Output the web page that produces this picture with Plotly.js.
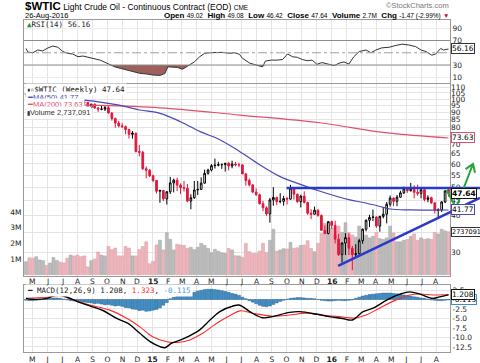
<!DOCTYPE html>
<html><head><meta charset="utf-8">
<script src="https://cdn.plot.ly/plotly-3.0.1.min.js"></script>
<style>html,body{margin:0;padding:0;background:#fff;}#chart{width:480px;height:363px;}</style>
</head><body><div id="chart"></div>
<script>
const weekDates = ['2014-04-18','2014-04-25','2014-05-02','2014-05-09','2014-05-16','2014-05-23','2014-05-30','2014-06-06','2014-06-13','2014-06-20','2014-06-27','2014-07-04','2014-07-11','2014-07-18','2014-07-25','2014-08-01','2014-08-08','2014-08-15','2014-08-22','2014-08-29','2014-09-05','2014-09-12','2014-09-19','2014-09-26','2014-10-03','2014-10-10','2014-10-17','2014-10-24','2014-10-31','2014-11-07','2014-11-14','2014-11-21','2014-11-28','2014-12-05','2014-12-12','2014-12-19','2014-12-26',
'2015-01-02','2015-01-09','2015-01-16','2015-01-23','2015-01-30','2015-02-06','2015-02-13','2015-02-20','2015-02-27','2015-03-06','2015-03-13','2015-03-20','2015-03-27','2015-04-03','2015-04-10','2015-04-17','2015-04-24','2015-05-01','2015-05-08','2015-05-15','2015-05-22','2015-05-29','2015-06-05','2015-06-12','2015-06-19','2015-06-26','2015-07-03','2015-07-10','2015-07-17','2015-07-24','2015-07-31','2015-08-07','2015-08-14','2015-08-21','2015-08-28','2015-09-04','2015-09-11','2015-09-18','2015-09-25','2015-10-02','2015-10-09','2015-10-16','2015-10-23','2015-10-30','2015-11-06','2015-11-13','2015-11-20','2015-11-27','2015-12-04','2015-12-11','2015-12-18','2015-12-25',
'2016-01-01','2016-01-08','2016-01-15','2016-01-22','2016-01-29','2016-02-05','2016-02-12','2016-02-19','2016-02-26','2016-03-04','2016-03-11','2016-03-18','2016-03-25','2016-04-01','2016-04-08','2016-04-15','2016-04-22','2016-04-29','2016-05-06','2016-05-13','2016-05-20','2016-05-27','2016-06-03','2016-06-10','2016-06-17','2016-06-24','2016-07-01','2016-07-08','2016-07-15','2016-07-22','2016-07-29','2016-08-05','2016-08-12','2016-08-19','2016-08-26'];

const openP = [103.7,104.3,100.6,99.8,100.0,102.0,104.4,102.7,102.7,106.9,107.3,105.7,104.1,100.8,103.1,102.1,97.9,97.7,97.4,93.7,96.0,93.3,92.3,92.4,93.5,89.7,85.8,82.8,81.0,80.5,78.7,75.8,76.5,66.2,65.8,57.8,57.1,
54.7,52.7,48.4,48.7,45.6,48.2,51.7,52.8,50.8,49.8,49.6,44.8,46.0,48.9,49.1,51.6,55.7,57.2,59.2,59.4,59.7,59.7,60.3,59.1,60.0,59.6,59.6,55.5,52.7,50.9,48.1,47.1,43.9,42.5,40.5,45.2,46.1,44.6,44.7,45.7,45.5,49.6,47.3,44.6,46.6,44.3,40.7,40.4,41.7,40.0,35.6,34.7,
38.1,37.0,33.2,29.4,32.2,33.6,30.9,29.4,29.6,32.8,35.9,38.5,39.4,39.5,36.8,39.7,40.4,43.7,45.9,44.7,46.2,47.8,49.3,48.6,49.1,48.0,47.6,49.0,45.4,46.0,44.2,41.6,41.8,44.5,49.02];
const highP = [104.5,104.6,101.5,101.1,102.4,104.6,104.6,103.6,107.7,107.7,107.5,106.4,104.4,104.0,105.0,102.6,98.7,98.4,97.6,96.5,96.8,93.9,95.1,94.9,95.2,90.0,86.4,84.3,82.9,81.2,79.1,77.8,76.7,69.7,66.6,58.9,57.7,
55.1,52.9,49.0,48.9,48.5,54.2,53.5,53.9,51.5,52.5,51.2,47.3,52.5,52.5,54.0,57.4,57.8,59.9,62.6,61.0,60.2,60.6,61.0,61.6,61.0,60.6,59.7,55.8,53.5,51.1,49.5,47.5,44.9,43.0,45.9,50.0,46.4,47.7,46.7,46.3,50.9,49.9,47.5,47.1,48.4,44.6,42.0,42.9,42.0,40.3,37.0,38.3,
38.4,38.4,34.6,32.4,34.8,34.7,31.5,31.9,33.3,36.1,38.8,40.2,41.9,39.8,39.9,42.4,44.5,46.8,46.0,47.0,48.6,50.2,49.8,51.7,50.7,51.0,49.7,49.1,46.9,46.4,44.3,42.3,44.8,48.8,49.08];
const lowP = [101.9,99.9,98.9,98.8,99.2,101.5,102.2,101.3,102.3,105.6,105.2,103.9,100.5,99.6,101.7,97.2,96.7,95.1,92.5,92.9,92.6,90.4,91.6,91.1,89.2,84.4,79.8,80.0,79.6,75.8,73.3,73.3,65.7,63.7,57.3,53.6,54.1,
52.0,47.6,44.2,44.8,43.6,47.4,48.0,48.5,47.3,48.3,44.4,42.0,45.6,47.0,49.0,51.4,55.2,56.6,57.9,58.9,57.7,56.5,57.0,58.0,58.9,58.5,55.4,50.6,50.3,47.7,46.7,43.6,41.4,39.9,37.8,43.2,43.4,44.0,43.2,43.6,45.3,45.3,44.2,42.6,44.0,40.2,38.9,40.3,39.6,35.4,34.5,34.5,
36.0,32.1,29.1,27.6,29.3,29.3,26.0,28.7,29.4,32.0,35.3,36.5,38.3,36.3,35.2,39.1,37.6,42.9,43.0,43.0,46.0,47.4,47.8,48.3,45.8,46.7,45.8,44.7,44.4,43.8,40.6,39.2,41.1,44.1,46.42];
const closeP = [104.3,100.6,99.8,100.0,102.0,104.4,102.7,102.7,106.9,107.3,105.7,104.1,100.8,103.1,102.1,97.9,97.7,97.4,93.7,96.0,93.3,92.3,92.4,93.5,89.7,85.8,82.8,81.0,80.5,78.7,75.8,76.5,66.2,65.8,57.8,57.1,54.7,
52.7,48.4,48.7,45.6,48.2,51.7,52.8,50.8,49.8,49.6,44.8,46.0,48.9,49.1,51.6,55.7,57.2,59.2,59.4,59.7,59.7,60.3,59.1,60.0,59.6,59.6,55.5,52.7,50.9,48.1,47.1,43.9,42.5,40.5,45.2,46.1,44.6,44.7,45.7,45.5,49.6,47.3,44.6,46.6,44.3,40.7,40.4,41.7,40.0,35.6,34.7,38.1,
37.0,33.2,29.4,32.2,33.6,30.9,29.4,29.6,32.8,35.9,38.5,39.4,39.5,36.8,39.7,40.4,43.7,45.9,44.7,46.2,47.8,49.3,48.6,49.1,48.0,47.6,49.0,45.4,46.0,44.2,41.6,41.8,44.5,48.5,47.64];

// weekly volume, millions
const volumeM = [0.83,1.08,1.05,1.15,0.94,0.9,0.6,0.75,1.1,0.9,0.8,0.75,1.05,1.25,1.2,1.25,1.15,1.2,0.5,0.9,1.0,1.45,1.25,1.2,1.8,1.6,1.7,1.2,1.2,1.8,1.7,1.2,1.2,1.6,1.8,2.1,0.7,0.85,1.9,2.2,
1.58,2.68,2.26,1.58,1.94,1.9,1.87,1.68,1.75,1.6,1.75,2.0,1.87,1.68,1.4,1.62,1.5,1.4,1.36,1.68,1.58,1.21,1.2,1.11,2.0,1.47,1.36,1.36,1.51,2.0,1.4,2.2,2.9,1.5,1.58,1.66,1.64,2.06,1.68,1.72,1.87,1.9,2.17,1.68,1.47,2.0,2.64,
3.28,3.2,2.96,2.53,3.1,2.7,3.32,2.7,2.53,2.4,3.1,2.35,2.53,2.35,2.45,2.7,2.3,2.25,2.35,3.1,2.66,2.1,2.1,2.2,2.25,2.45,2.6,2.2,2.35,2.25,2.3,2.25,2.7,2.6,2.9,2.8,2.737];

const ma50Dates = ['2014-04-18','2014-07-25','2014-10-22','2014-12-06','2015-01-16','2015-02-27','2015-04-08','2015-05-19','2015-06-28','2015-08-08','2015-09-18','2015-10-28','2015-12-05','2016-02-07','2016-03-05','2016-04-07','2016-04-29','2016-06-08','2016-08-26'];
const ma50Vals = [99.0,99.8,95.5,91.8,89.4,83.7,77.4,72.5,66.1,59.5,54.3,51.2,48.6,45.2,44.3,43.0,42.1,41.8,41.77];
const ma200Dates = ['2014-04-18','2014-08-07','2015-01-16','2015-06-28','2015-12-07','2016-04-23','2016-08-26'];
const ma200Vals = [96.5,95.5,93.4,88.2,83.0,76.6,73.63];

const rsiDates = ['2014-04-18','2014-04-22','2014-05-02','2014-05-12','2014-05-22','2014-06-02','2014-06-12','2014-06-22','2014-07-02','2014-07-12','2014-07-22','2014-08-02','2014-08-12','2014-08-22','2014-09-01','2014-09-16','2014-09-26','2014-10-06','2014-10-16','2014-10-27','2014-11-10','2014-11-22','2014-12-06','2014-12-20',
'2015-01-01','2015-01-16','2015-01-26','2015-02-01','2015-02-11','2015-02-21','2015-03-03','2015-03-11','2015-03-17','2015-03-27','2015-04-07','2015-04-17','2015-04-27','2015-05-11','2015-05-24','2015-06-07','2015-06-17','2015-06-27','2015-07-03','2015-07-18','2015-08-01','2015-08-13','2015-08-19','2015-08-31','2015-09-13','2015-09-23','2015-10-03','2015-10-13','2015-10-23','2015-11-02','2015-11-12','2015-11-22','2015-12-02','2015-12-12','2015-12-27',
'2016-01-06','2016-01-16','2016-01-26','2016-02-05','2016-02-15','2016-02-26','2016-03-11','2016-03-21','2016-03-31','2016-04-12','2016-04-27','2016-05-11','2016-05-23','2016-06-06','2016-06-20','2016-07-01','2016-07-11','2016-07-23','2016-07-31','2016-08-10','2016-08-16','2016-08-26'];
const rsiVals = [57,51,50,54.5,53,58,61,59,52,49,48,43.5,44.7,42.5,41,38,34.4,31,27,24.6,22,19,16.4,15.3,
13.7,13,16,27,27,26,23,27,30,35,43.5,49,50,50.7,50.7,49,50,47.5,41,33,30,27,36.5,38,38,39,48,43.5,42.5,39,37,38,31,34,31,
29,33,35,31.6,43.5,52,54.5,50,54.5,58,59,62,64,62.7,60,54.5,52,46,48,57,54.5,56.16];

const macdDates = ['2014-04-18','2014-05-02','2014-05-31','2014-06-22','2014-07-11','2014-08-02','2014-08-26','2014-09-22','2014-10-20','2014-11-12','2014-12-06','2014-12-27','2015-01-16','2015-01-26','2015-02-09','2015-02-26','2015-03-14','2015-04-07','2015-04-28','2015-05-18','2015-06-14','2015-06-28','2015-07-18','2015-08-13','2015-09-02','2015-10-07','2015-10-27','2015-12-03','2015-12-27','2016-01-23','2016-02-12','2016-03-05','2016-03-25','2016-04-23','2016-05-19','2016-06-08','2016-06-29','2016-07-25','2016-08-08','2016-08-26'];
const macdVals = [0.3,0.05,0.3,1.3,0.6,-0.6,-1.7,-2.9,-5.0,-6.3,-8.9,-11.1,-12.4,-12.7,-11.5,-10.7,-9.8,-8.0,-5.4,-3.2,-1.7,-1.5,-3.2,-4.8,-4.5,-3.4,-3.2,-3.9,-4.5,-5.0,-5.4,-3.2,-2.3,-0.1,1.4,2.0,1.4,0.3,0.7,1.208];
const signalDates = ['2014-04-18','2014-05-31','2014-06-26','2014-07-22','2014-08-26','2014-10-06','2014-11-10','2014-12-06','2015-01-01','2015-01-30','2015-02-20','2015-03-17','2015-04-13','2015-05-11','2015-06-07','2015-06-28','2015-07-24','2015-09-02','2015-10-07','2015-11-10','2015-12-12','2016-01-16','2016-02-15','2016-03-11','2016-04-07','2016-05-11','2016-06-08','2016-06-29','2016-07-25','2016-08-26'];
const signalVals = [0.3,0.6,1.0,0.0,-1.45,-2.8,-5.0,-7.2,-9.8,-11.1,-11.3,-10.7,-8.9,-6.3,-4.3,-3.0,-3.6,-4.4,-4.1,-3.6,-4.1,-4.5,-4.9,-4.1,-2.3,-0.1,1.2,1.45,1.2,1.323];
const histVals = [-0.2,-0.3,-0.3,-0.2,-0.1,0.0,0.2,0.3,0.4,0.4,0.3,0.1,-0.1,-0.3,-0.4,-0.5,-0.6,-0.7,-0.8,
-0.9,-1.1,-1.0,-1.2,-1.4,-1.3,-1.5,-1.7,-1.6,-1.8,-2.1,-2.2,-2.5,-2.6,-2.9,-2.8,-3.1,-3.0,-2.8,-2.6,-2.2,-1.5,-0.8,
0.2,0.6,0.9,1.1,1.3,1.5,1.7,1.9,2.2,2.4,2.6,2.7,2.7,2.6,2.5,2.3,2.1,1.9,1.6,1.4,1.1,
0.6,0.2,-0.3,-0.7,-1.1,-1.5,-1.8,-1.9,-1.7,-1.3,-0.9,-0.5,-0.2,0.1,0.3,0.4,0.5,0.5,0.4,0.3,0.3,0.2,0.0,-0.2,-0.3,-0.4,-0.4,-0.3,-0.2,-0.3,-0.3,-0.2,-0.1,
0.3,0.6,0.9,1.1,1.3,1.4,1.5,1.6,1.7,1.7,1.7,1.6,1.5,1.3,1.2,1.0,0.9,0.7,0.6,0.4,0.3,0.1,-0.1,-0.2,-0.3,-0.3,-0.2,-0.115];

const monthTicks = ['2014-05-01','2014-06-01','2014-07-01','2014-08-01','2014-09-01','2014-10-01','2014-11-01','2014-12-01','2015-01-01','2015-02-01','2015-03-01','2015-04-01','2015-05-01','2015-06-01','2015-07-01','2015-08-01','2015-09-01','2015-10-01','2015-11-01','2015-12-01','2016-01-01','2016-02-01','2016-03-01','2016-04-01','2016-05-01','2016-06-01','2016-07-01','2016-08-01'];
const monthLabels = ['M','J','J','A','S','O','N','D','<b>15</b>','F','M','A','M','J','J','A','S','O','N','D','<b>16</b>','F','M','A','M','J','J','A'];
const priceTicks = [30,35,40,45,50,55,60,65,70,75,80,85,90,95,100,105,110];
const volTicks = [1e6,2e6,3e6,4e6];
const volLabels = ['1M','2M','3M','4M'];
const rsiTicks = [10,30,70,90];
const macdTicks = [2.5,-2.5,-5,-7.5,-10,-12.5];
const macdLabels = ['2.5','-2.5','-5.0','-7.5','-10.0','-12.5'];

// trendline anchors (date, price)
const resistDate = '2015-10-01', resistPrice = 49.7;
const supportDates = ['2016-01-14','2016-08-26'], supportPrices = [26.9, 40.8];

// ---------- geometry ----------
const X0 = '2014-04-14', X1 = '2016-08-29';
const t0 = Date.parse(X0), t1 = Date.parse(X1);
const PL = 24, PR = 450, PT = 20, PB = 352;
const pxX = x => (x - PL) / (PR - PL);
const pxY = y => (PB - y) / (PB - PT);
const rsiDom = [pxY(83), 1], mainDom = [pxY(276), pxY(84)], macdDom = [0, pxY(285)];
const priceRange = [1.39509, 2.05165];
const volRange = [-0.083e6, 12.17e6];
const dateToPaper = d => (Date.parse(d) - t0) / (t1 - t0);
const priceToPaper = p => mainDom[0] + (Math.log10(p) - priceRange[0]) / (priceRange[1] - priceRange[0]) * (mainDom[1] - mainDom[0]);

const RED = '#e2163c', BLUE50 = '#4848b8', RED200 = '#e0506e';
const volColors = closeP.map((c, i) => (i > 0 && c < closeP[i - 1]) ? 'rgb(236,182,188)' : 'rgb(188,188,188)');
const volLine = closeP.map((c, i) => (i > 0 && c < closeP[i - 1]) ? 'rgb(222,150,160)' : 'rgb(160,160,160)');

const traces = [
  {type:'bar', x:weekDates, y:volumeM.map(v => v * 1e6), xaxis:'x2', yaxis:'y2', width:6*864e5,
   marker:{color:volColors, line:{color:volLine, width:0.5}}},
  {type:'scatter', mode:'lines', x:ma200Dates, y:ma200Vals, xaxis:'x2', yaxis:'y4', line:{color:RED200, width:1.2, shape:'spline'}},
  {type:'scatter', mode:'lines', x:ma50Dates, y:ma50Vals, xaxis:'x2', yaxis:'y4', line:{color:BLUE50, width:1.2, shape:'spline'}},
  {type:'candlestick', x:weekDates, open:openP, high:highP, low:lowP, close:closeP, xaxis:'x2', yaxis:'y4',
   increasing:{line:{color:'#000', width:1}, fillcolor:'#fff'},
   decreasing:{line:{color:RED, width:1}, fillcolor:RED}, whiskerwidth:0},
  {type:'scatter', mode:'lines', x:rsiDates, y:rsiDates.map(() => 30), xaxis:'x3', yaxis:'y3', line:{width:0}},
  {type:'scatter', mode:'lines', x:rsiDates, y:rsiVals.map(v => Math.min(v, 30)), xaxis:'x3', yaxis:'y3',
   line:{width:0}, fill:'tonexty', fillcolor:'rgb(158,96,90)'},
  {type:'scatter', mode:'lines', x:rsiDates, y:rsiVals, xaxis:'x3', yaxis:'y3', line:{color:'#333', width:1}},
  {type:'bar', x:weekDates, y:histVals, xaxis:'x', yaxis:'y', width:6*864e5,
   marker:{color:'#3d8fc8', line:{color:'#245f8c', width:0.5}}},
  {type:'scatter', mode:'lines', x:signalDates, y:signalVals, xaxis:'x', yaxis:'y', line:{color:'#ff2a2a', width:1.1, shape:'spline'}},
  {type:'scatter', mode:'lines', x:macdDates, y:macdVals, xaxis:'x', yaxis:'y', line:{color:'#000', width:1.4, shape:'spline'}}
];

const tickFont = {family:'DejaVu Sans', size:7.5, color:'#222'};
const xBase = {type:'date', range:[X0, X1], tickvals:monthTicks, ticktext:monthLabels, showgrid:true, gridcolor:'#e4e4e4',
  gridwidth:1, ticks:'', showline:true, linecolor:'#9a9a9a', mirror:true, tickfont:tickFont, rangeslider:{visible:false}, fixedrange:true};

// shapes
const shapes = [
  {type:'line', xref:'paper', yref:'y3', x0:0, x1:1, y0:70, y1:70, line:{color:'#8c8c8c', width:1}},
  {type:'line', xref:'paper', yref:'y3', x0:0, x1:1, y0:30, y1:30, line:{color:'#8c8c8c', width:1}},
  {type:'line', xref:'paper', yref:'y3', x0:0, x1:1, y0:50, y1:50, line:{color:'#a0a0a0', width:1, dash:'dashdot'}}
];
const xEnd = pxX(480);
shapes.push({type:'line', xref:'paper', yref:'paper', x0:dateToPaper(resistDate), x1:xEnd,
  y0:priceToPaper(resistPrice), y1:priceToPaper(resistPrice), line:{color:'#2b38cc', width:2.5}});
{
  const xa = dateToPaper(supportDates[0]), ya = priceToPaper(supportPrices[0]);
  const xb = dateToPaper(supportDates[1]), yb = priceToPaper(supportPrices[1]);
  const ye = ya + (yb - ya) * (xEnd - xa) / (xb - xa);
  shapes.push({type:'line', xref:'paper', yref:'paper', x0:xa, x1:xEnd, y0:ya, y1:ye, line:{color:'#2b38cc', width:2.5}});
}
{
  const A = [446.7, 190], Bp = [456, 208], C = [473, 164];
  const ang = Math.atan2(C[1] - Bp[1], C[0] - Bp[0]);
  const L = 9, spread = 0.6;
  const w1 = [C[0] - L * Math.cos(ang - spread), C[1] - L * Math.sin(ang - spread)];
  const w2 = [C[0] - L * Math.cos(ang + spread), C[1] - L * Math.sin(ang + spread)];
  const P = p => pxX(p[0]).toFixed(5) + ',' + pxY(p[1]).toFixed(5);
  shapes.push({type:'path', xref:'paper', yref:'paper',
    path:'M' + P(A) + ' L' + P(Bp) + ' L' + P(C) + ' M' + P(w1) + ' L' + P(C) + ' L' + P(w2),
    line:{color:'#23a53a', width:2}});
}

const mono = 'DejaVu Sans Mono', sans = 'Liberation Sans';
const box = (yref, y, text, border, extra) => Object.assign({xref:'paper', x:1, xanchor:'left', xshift:1, yref:yref, y:y,
  yanchor:'middle', text:text, showarrow:false, bgcolor:'#fff', bordercolor:border, borderwidth:1, borderpad:0,
  font:{family:'DejaVu Sans', size:7.5, color:'#000'}}, extra || {});
const lbl = (x, y, text, font, extra) => Object.assign({xref:'paper', yref:'paper', x:pxX(x), y:pxY(y), xanchor:'left',
  yanchor:'middle', text:text, showarrow:false, font:font}, extra || {});

const annotations = [
  lbl(23, 6.5, '<b><span style="font-size:11.5px">$WTIC</span></b> Light Crude Oil - Continuous Contract (EOD) <span style="font-size:6.5px">CME</span>',
    {family:sans, size:8.5, color:'#000'}),
  lbl(23, 15.5, '26-Aug-2016', {family:sans, size:7.5, color:'#000'}),
  lbl(451, 15.5, '<b>Open</b> <span style="font-size:6.5px">49.02</span>  <b>High</b> <span style="font-size:6.5px">49.08</span>  <b>Low</b> <span style="font-size:6.5px">46.42</span>  <b>Close</b> <span style="font-size:6.5px">47.64</span>  <b>Volume</b> <span style="font-size:6.5px">2.7M</span>  <b>Chg</b> <span style="font-size:6.5px">-1.47 (-2.99%)</span> <span style="color:#d0102a;font-size:6.5px">▼</span>',
    {family:sans, size:8, color:'#000'}, {xanchor:'right'}),
  lbl(451, 5.5, '©StockCharts.com', {family:sans, size:7.5, color:'#777'}, {xanchor:'right'}),
  lbl(25, 25, '<span style="color:#2a8a3a">▲</span>RSI(14) 56.16', {family:mono, size:7.5, color:'#222'}),
  lbl(24.5, 90, '<span style="font-size:6px">▮▯</span>$WTIC (Weekly) 47.64', {family:mono, size:7.5, color:'#111'}, {bgcolor:'#fff'}),
  lbl(24.5, 97.5, '<span style="color:' + BLUE50 + '">━MA(50) 41.77</span>', {family:sans, size:7.5, color:BLUE50}, {bgcolor:'#fff'}),
  lbl(24.5, 105, '<span style="color:' + RED200 + '">━MA(200) 73.63</span>', {family:sans, size:7.5, color:RED200}, {bgcolor:'#fff'}),
  lbl(24.5, 112.5, '<span style="font-size:6px">▮</span>Volume 2,737,091', {family:sans, size:7.5, color:'#333'}, {bgcolor:'#fff'}),
  lbl(25, 290, '━ MACD(12,26,9) 1.208, <span style="color:#ff2a2a">1.323</span>, <span style="color:#3d9ad8">-0.115</span>', {family:mono, size:7.5, color:'#222'}, {bgcolor:'#fff'}),
  box('y3', 56.16, '56.16', '#333'),
  box('y4', Math.log10(73.63), '73.63', RED200),
  box('y4', Math.log10(41.77), '41.77', BLUE50),
  box('y4', Math.log10(47.64), '<b>47.64</b>', '#111'),
  box('y2', 2.737e6, '2737091', '#333', {font:{family:'DejaVu Sans', size:6.5, color:'#000'}}),
  box('y', -0.115, '-0.115', '#3d8fc8'),
  box('y', 1.208, '1.208', '#111')
];
// month labels between the price panel and the MACD panel
monthTicks.forEach((d, i) => annotations.push({xref:'x2', yref:'paper', x:d, y:pxY(281), xanchor:'center', yanchor:'middle',
  text:monthLabels[i], showarrow:false, font:tickFont}));

const layout = {
  width:480, height:363, margin:{l:PL, r:480 - PR, t:PT, b:363 - PB},
  paper_bgcolor:'#fff', plot_bgcolor:'#fff', showlegend:false, hovermode:false,
  font:{family:'DejaVu Sans', size:7.5, color:'#222'},
  xaxis: Object.assign({}, xBase, {domain:[0,1], anchor:'y'}),
  xaxis2: Object.assign({}, xBase, {domain:[0,1], anchor:'y2', showticklabels:false}),
  xaxis3: Object.assign({}, xBase, {domain:[0,1], anchor:'y3', showticklabels:false}),
  yaxis: {domain:macdDom, anchor:'x', side:'right', range:[-13.82, 3.816], tickvals:macdTicks, ticktext:macdLabels,
    showgrid:true, gridcolor:'#e4e4e4', zeroline:true, zerolinecolor:'#e4e4e4', zerolinewidth:1, ticks:'',
    showline:true, linecolor:'#9a9a9a', mirror:true, tickfont:tickFont, fixedrange:true},
  yaxis2: {domain:mainDom, anchor:'x2', side:'left', range:volRange, tickvals:volTicks, ticktext:volLabels,
    showgrid:false, zeroline:false, ticks:'', showline:true, linecolor:'#9a9a9a', mirror:true, tickfont:tickFont, fixedrange:true},
  yaxis4: {overlaying:'y2', anchor:'x2', side:'right', type:'log', range:priceRange, tickvals:priceTicks,
    ticktext:priceTicks.map(String), showgrid:true, gridcolor:'#e4e4e4', zeroline:false, ticks:'', showline:false,
    tickfont:tickFont, fixedrange:true},
  yaxis3: {domain:rsiDom, anchor:'x3', side:'right', range:[0.6, 103.5], tickvals:rsiTicks, ticktext:rsiTicks.map(String),
    showgrid:true, gridcolor:'#ececec', zeroline:false, ticks:'', showline:true, linecolor:'#9a9a9a', mirror:true,
    tickfont:tickFont, fixedrange:true},
  shapes: shapes,
  annotations: annotations
};

Plotly.newPlot('chart', traces, layout, {staticPlot:true, displayModeBar:false});
</script>
</body></html>
